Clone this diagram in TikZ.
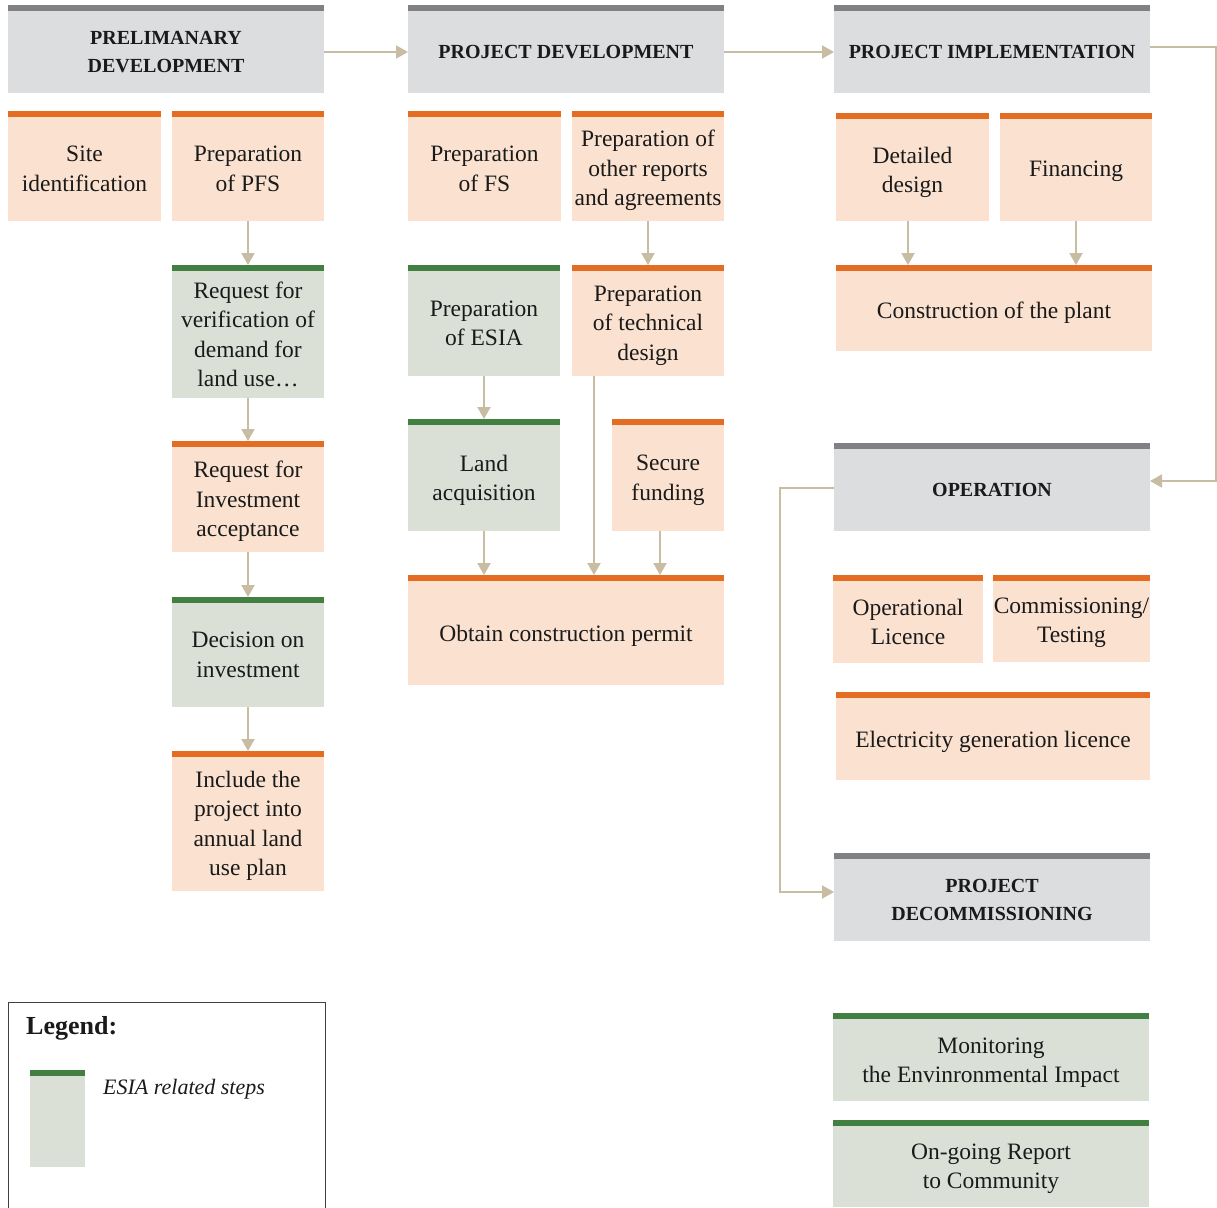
\documentclass[tikz,border=0pt]{standalone}
\usepackage{fontspec}
\setmainfont{Liberation Serif}
\usetikzlibrary{arrows.meta}
\definecolor{gfill}{HTML}{DCDDDF}
\definecolor{gbar}{HTML}{808184}
\definecolor{ofill}{HTML}{FBE2D0}
\definecolor{obar}{HTML}{E46C23}
\definecolor{efill}{HTML}{DAE0D6}
\definecolor{ebar}{HTML}{418041}
\definecolor{arrc}{HTML}{C8BCA2}
\definecolor{txt}{HTML}{1A1A1A}
\begin{document}
\begin{tikzpicture}[x=1pt,y=-1pt,
 box/.style={anchor=north west, inner sep=0pt, outer sep=0pt, align=center, text=txt, font=\fontsize{23.5}{29.5}\selectfont},
 hbox/.style={box, fill=gfill, font=\bfseries\fontsize{20}{28.5}\selectfont},
 obox/.style={box, fill=ofill},
 ebox/.style={box, fill=efill},
 arr/.style={draw=arrc, line width=2pt, -{Triangle[width=13pt,length=12pt]}},
 legline/.style={draw=black!75, line width=1pt},
]
\useasboundingbox (0,0) rectangle (1217,1207);

% headers
\node[hbox, minimum width=316pt, minimum height=82pt] (prelim) at (8,11) {PRELIMANARY\\DEVELOPMENT};
\node[hbox, minimum width=316pt, minimum height=82pt] (pdev) at (408,11) {PROJECT DEVELOPMENT};
\node[hbox, minimum width=316pt, minimum height=82pt] (impl) at (834,11) {PROJECT IMPLEMENTATION};
\node[hbox, minimum width=316pt, minimum height=82pt] (oper) at (834,449) {OPERATION};
\node[hbox, minimum width=316pt, minimum height=82pt] (decom) at (834,859) {PROJECT\\DECOMMISSIONING};

% column 1
\node[obox, minimum width=153pt, minimum height=104pt] (site) at (8,117) {Site\\identification};
\node[obox, minimum width=152pt, minimum height=104pt] (pfs) at (172,117) {Preparation\\of PFS};
\node[ebox, minimum width=152pt, minimum height=127pt] (verif) at (172,271) {Request for\\verification of\\demand for\\land use…};
\node[obox, minimum width=152pt, minimum height=101pt] (invest) at (172,451) {Request for\\Investment\\acceptance};
\node[ebox, minimum width=152pt, minimum height=104pt] (decision) at (172,603) {Decision on\\investment};
\node[obox, minimum width=152pt, minimum height=130pt] (include) at (172,761) {Include the\\project into\\annual land\\use plan};

% column 2
\node[obox, minimum width=153pt, minimum height=104pt] (fs) at (408,117) {Preparation\\of FS};
\node[obox, minimum width=152pt, minimum height=101pt] (other) at (572,120) {Preparation of\\other reports\\and agreements};
\node[ebox, minimum width=152pt, minimum height=105pt] (esia) at (408,271) {Preparation\\of ESIA};
\node[obox, minimum width=152pt, minimum height=101pt] (tech) at (572,275) {Preparation\\of technical\\design};
\node[ebox, minimum width=152pt, minimum height=101pt] (land) at (408,430) {Land\\acquisition};
\node[obox, minimum width=112pt, minimum height=101pt] (secure) at (612,430) {Secure\\funding};
\node[obox, minimum width=316pt, minimum height=98pt] (permit) at (408,587) {Obtain construction permit};

% column 3
\node[obox, minimum width=153pt, minimum height=97pt] (detail) at (836,124) {Detailed\\design};
\node[obox, minimum width=152pt, minimum height=100pt] (fin) at (1000,121) {Financing};
\node[obox, minimum width=316pt, minimum height=76pt] (constr) at (836,275) {Construction of the plant};
\node[obox, minimum width=150pt, minimum height=82pt] (oplic) at (833,581) {Operational\\Licence};
\node[obox, minimum width=157pt, minimum height=79pt] (comm) at (993,583) {Commissioning/\\Testing};
\node[obox, minimum width=314pt, minimum height=77pt] (elec) at (836,703) {Electricity generation licence};
\node[ebox, minimum width=316pt, minimum height=77pt] (monit) at (833,1024) {Monitoring\\the Envinronmental Impact};
\node[ebox, minimum width=316pt, minimum height=77pt] (ongo) at (833,1130) {On-going Report\\to Community};

% legend
\draw[legline] (8,1230) -- (8,1002.5) -- (325,1002.5) -- (325,1230);
\node[ebox, minimum width=55pt, minimum height=91pt] (swatch) at (30,1076) {};
\node[anchor=west, inner sep=0pt, text=txt, font=\bfseries\fontsize{26}{30}\selectfont] (legtitle) at (26,1028.5) {Legend:};
\node[anchor=west, inner sep=0pt, text=txt, font=\itshape\fontsize{22}{26}\selectfont] (legtext) at (103,1089.5) {ESIA related steps};

% top bars (gap filled with box colour, then the bar), and top anchor of each box
\foreach \n/\g in {prelim/0,pdev/0,impl/0,oper/0,decom/0}{
  \fill[gbar] ([yshift=\g]\n.north west) rectangle ([yshift=\g+6]\n.north east);
  \coordinate (\n-top) at ([yshift=\g+6]\n.north);}
\foreach \n/\g in {site/0,pfs/0,invest/4,include/4,fs/0,other/3,tech/4,secure/5,permit/6,detail/5,fin/2,constr/4,oplic/0,comm/2,elec/5}{
  \fill[ofill] (\n.north west) rectangle ([yshift=\g]\n.north east);
  \fill[obar] ([yshift=\g]\n.north west) rectangle ([yshift=\g+6]\n.north east);
  \coordinate (\n-top) at ([yshift=\g+6]\n.north);}
\foreach \n/\g in {verif/0,decision/0,esia/0,land/5,monit/5,ongo/4,swatch/0}{
  \fill[efill] (\n.north west) rectangle ([yshift=\g]\n.north east);
  \fill[ebar] ([yshift=\g]\n.north west) rectangle ([yshift=\g+6]\n.north east);
  \coordinate (\n-top) at ([yshift=\g+6]\n.north);}

% header connectors
\draw[arr] (prelim.east) -- (pdev.west);
\draw[arr] (pdev.east) -- (impl.west);
\draw[arr] ([yshift=5pt]impl.east) -- ++(66,0) |- ([yshift=9pt]oper.east);
\draw[arr] ([yshift=2pt]oper.west) -- ++(-54,0) |- ([yshift=8pt]decom.west);

% vertical connectors
\draw[arr] (pfs.south) -- (verif-top);
\draw[arr] (verif.south) -- (invest-top);
\draw[arr] (invest.south) -- (decision-top);
\draw[arr] (decision.south) -- (include-top);
\draw[arr] (other.south) -- (tech-top);
\draw[arr] (esia.south) -- (land-top);
\draw[arr] (land.south) -- (land.south |- permit-top);
\coordinate (t1) at ([xshift=-54pt]tech.south);
\draw[arr] (t1) -- (t1 |- permit-top);
\coordinate (t2) at ([xshift=-8pt]secure.south);
\draw[arr] (t2) -- (t2 |- permit-top);
\coordinate (t3) at ([xshift=-4.5pt]detail.south);
\draw[arr] (t3) -- (t3 |- constr-top);
\draw[arr] (fin.south) -- (fin.south |- constr-top);
\end{tikzpicture}
\end{document}
